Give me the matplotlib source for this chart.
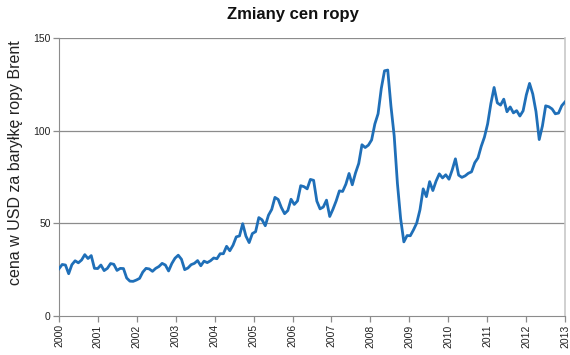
import matplotlib
matplotlib.use("Agg")
import matplotlib.pyplot as plt
import numpy as np

plt.rcParams['font.family'] = ['Liberation Sans', 'DejaVu Sans']

# Monthly Brent price (USD/bbl), Jan 2000 .. Feb 2013
prices = [
    25.5, 27.8, 27.5, 22.8, 27.7, 29.8, 28.7, 30.2, 33.1, 31.0, 32.6, 25.7,   # 2000
    25.6, 27.5, 24.5, 25.7, 28.3, 27.9, 24.6, 25.7, 25.6, 20.5, 18.8, 18.7,   # 2001
    19.4, 20.3, 23.7, 25.7, 25.4, 24.1, 25.7, 26.7, 28.4, 27.5, 24.3, 28.3,   # 2002
    31.2, 32.8, 30.6, 25.0, 25.9, 27.7, 28.4, 29.9, 27.1, 29.6, 28.8, 29.8,   # 2003
    31.3, 30.9, 33.6, 33.6, 37.6, 35.2, 38.2, 42.7, 43.2, 49.8, 43.1, 39.6,   # 2004
    44.5, 45.5, 53.1, 51.9, 48.7, 54.4, 57.5, 64.0, 62.9, 58.5, 55.2, 56.9,   # 2005
    63.0, 60.2, 62.1, 70.3, 69.8, 68.6, 73.7, 73.2, 62.0, 57.8, 58.8, 62.5,   # 2006
    53.7, 57.6, 62.1, 67.5, 67.2, 71.1, 76.9, 70.8, 77.2, 82.3, 92.4, 90.9,   # 2007
    92.2, 95.0, 103.6, 109.1, 122.8, 132.3, 132.7, 113.2, 97.2, 71.6, 52.5, 40.0,  # 2008
    43.4, 43.3, 46.5, 50.2, 57.3, 68.6, 64.4, 72.5, 67.7, 72.8, 76.7, 74.5,   # 2009
    76.2, 73.8, 78.8, 84.8, 76.0, 74.8, 75.6, 77.0, 77.8, 82.7, 85.3, 91.5,   # 2010
    96.5, 103.7, 114.6, 123.3, 115.0, 113.8, 117.0, 110.2, 112.8, 109.6, 110.8, 107.9,  # 2011
    110.7, 119.3, 125.5, 119.8, 110.3, 95.2, 102.6, 113.4, 112.9, 111.7, 109.1, 109.5,  # 2012
    113.5, 115.5,                                                                 # 2013
]
start_year = 2000
years = list(range(2000, 2014))
yticks = [0, 50, 100, 150]

# spread the monthly points so the last one sits at the right axis end
x = start_year + np.arange(len(prices)) * (13.0 / (len(prices) - 1))

fig = plt.figure(figsize=(5.7, 3.55), dpi=100)
ax = fig.add_axes([59/570, 1-316/355, (565-59)/570, (316-38)/355])

grid_c = '#8c8c8c'
ax.set_ylim(0, 150)
ax.set_xlim(2000, 2013)
ax.set_yticks(yticks)
ax.set_xticks(years)
ax.set_xticklabels([str(y) for y in years], rotation=90, fontsize=7.5)
ax.set_yticklabels([str(v) for v in yticks], fontsize=7.5)
for v in yticks[1:]:
    ax.axhline(v, color=grid_c, lw=0.9, zorder=1)

ax.plot(x, prices, color='#1f6fb8', lw=2.0, zorder=3, solid_joinstyle='round')

ax.spines['top'].set_visible(False)
ax.spines['right'].set_color('#c8c8c8')
ax.spines['right'].set_linewidth(1.2)
ax.spines['left'].set_color(grid_c)
ax.spines['bottom'].set_color(grid_c)
ax.tick_params(axis='both', color=grid_c, length=4, width=0.9, labelcolor='#222222', pad=2)

fig.text(16/570, 1-163/355, 'cena w USD za baryłkę ropy Brent', rotation=90,
         ha='center', va='center', fontsize=11.5, color='#222222')
fig.text(293/570, 1-15/355, 'Zmiany cen ropy', ha='center', va='center',
         fontsize=12, fontweight='bold', color='#111111')

fig.savefig('out.png', dpi=100)
